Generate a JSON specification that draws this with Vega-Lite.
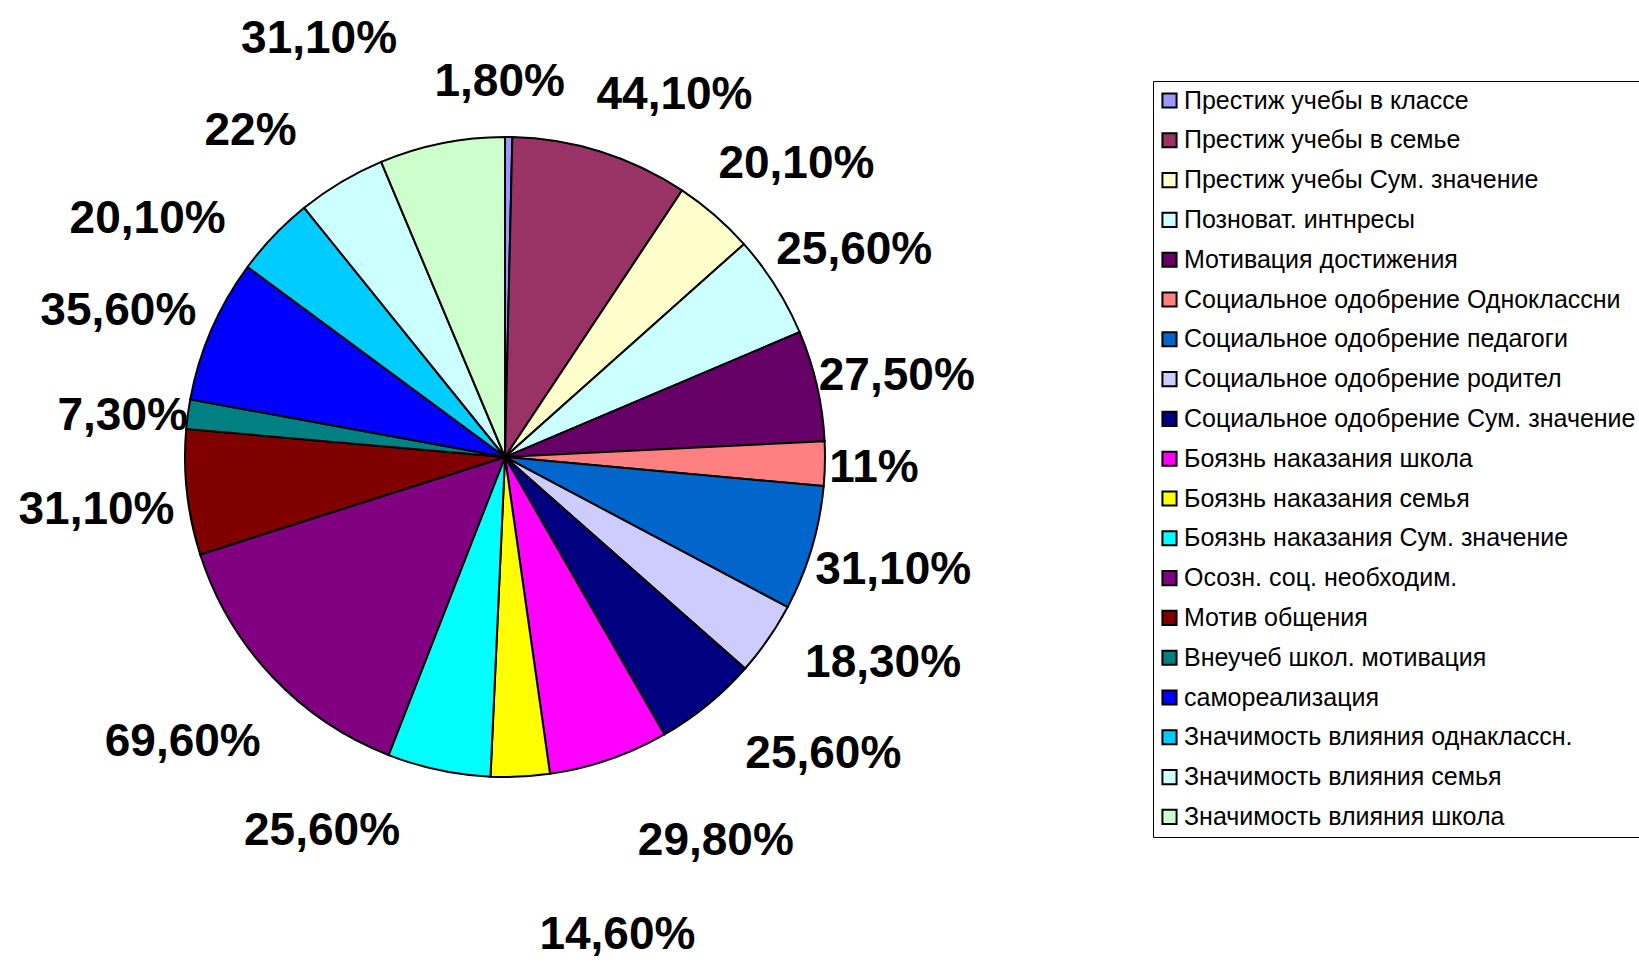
{
  "$schema": "https://vega.github.io/schema/vega-lite/v6.json",
  "width": 1010,
  "height": 914,
  "padding": 0,
  "autosize": {"type": "pad"},
  "background": "white",
  "config": {"view": {"stroke": null}},
  "data": {
    "values": [
      {"i": 1, "name": "Престиж учебы в классе", "v": 1.8, "lbl": "1,80%"},
      {"i": 2, "name": "Престиж учебы в семье", "v": 44.1, "lbl": "44,10%"},
      {"i": 3, "name": "Престиж учебы Сум. значение", "v": 20.1, "lbl": "20,10%"},
      {"i": 4, "name": "Позноват. интнресы", "v": 25.6, "lbl": "25,60%"},
      {"i": 5, "name": "Мотивация достижения", "v": 27.5, "lbl": "27,50%"},
      {"i": 6, "name": "Социальное одобрение Одноклассни", "v": 11, "lbl": "11%"},
      {"i": 7, "name": "Социальное одобрение педагоги", "v": 31.1, "lbl": "31,10%"},
      {"i": 8, "name": "Социальное одобрение родител", "v": 18.3, "lbl": "18,30%"},
      {"i": 9, "name": "Социальное одобрение Сум. значение", "v": 25.6, "lbl": "25,60%"},
      {"i": 10, "name": "Боязнь наказания школа", "v": 29.8, "lbl": "29,80%"},
      {"i": 11, "name": "Боязнь наказания семья", "v": 14.6, "lbl": "14,60%"},
      {"i": 12, "name": "Боязнь наказания Сум. значение", "v": 25.6, "lbl": "25,60%"},
      {"i": 13, "name": "Осозн. соц. необходим.", "v": 69.6, "lbl": "69,60%"},
      {"i": 14, "name": "Мотив общения", "v": 31.1, "lbl": "31,10%"},
      {"i": 15, "name": "Внеучеб школ. мотивация", "v": 7.3, "lbl": "7,30%"},
      {"i": 16, "name": "самореализация", "v": 35.6, "lbl": "35,60%"},
      {"i": 17, "name": "Значимость влияния однаклассн.", "v": 20.1, "lbl": "20,10%"},
      {"i": 18, "name": "Значимость влияния семья", "v": 22, "lbl": "22%"},
      {"i": 19, "name": "Значимость влияния школа", "v": 31.1, "lbl": "31,10%"}
    ]
  },
  "encoding": {
    "theta": {"field": "v", "type": "quantitative", "stack": true},
    "order": {"field": "i", "type": "quantitative"},
    "color": {
      "field": "name",
      "type": "nominal",
      "sort": null,
      "scale": {
        "domain": ["Престиж учебы в классе", "Престиж учебы в семье", "Престиж учебы Сум. значение", "Позноват. интнресы", "Мотивация достижения", "Социальное одобрение Одноклассни", "Социальное одобрение педагоги", "Социальное одобрение родител", "Социальное одобрение Сум. значение", "Боязнь наказания школа", "Боязнь наказания семья", "Боязнь наказания Сум. значение", "Осозн. соц. необходим.", "Мотив общения", "Внеучеб школ. мотивация", "самореализация", "Значимость влияния однаклассн.", "Значимость влияния семья", "Значимость влияния школа"],
        "range": ["#9999FF", "#993366", "#FFFFCC", "#CCFFFF", "#660066", "#FF8080", "#0066CC", "#CCCCFF", "#000080", "#FF00FF", "#FFFF00", "#00FFFF", "#800080", "#800000", "#008080", "#0000FF", "#00CCFF", "#CCFFFF", "#CCFFCC"]
      },
      "legend": {
        "orient": "none",
        "legendX": 1153,
        "legendY": 81,
        "title": null,
        "strokeColor": "black",
        "fillColor": "white",
        "padding": 7,
        "symbolType": "square",
        "symbolSize": 200,
        "symbolOffset": -3,
        "symbolStrokeColor": "black",
        "symbolStrokeWidth": 2,
        "symbolOpacity": 1,
        "labelFont": "Liberation Sans",
        "labelFontSize": 25,
        "labelColor": "black",
        "labelLimit": 700,
        "labelOffset": 2,
        "rowPadding": 13.8
      }
    }
  },
  "layer": [
    {
      "mark": {"type": "arc", "radius": 320, "stroke": "black", "strokeWidth": 2, "opacity": 1}
    },
    {
      "mark": {
        "type": "text",
        "radius": 405,
        "font": "Liberation Sans",
        "fontWeight": "bold",
        "fontSize": 46,
        "align": "center",
        "baseline": "middle",
        "dx": {"expr": "[-10,48,26,7,-3,-36,0,45,62,79,93,-99,-27,-6,19,-15,-65,-47,-106][datum.i-1]"},
        "dy": {"expr": "[30,24,13,10,9,3,-3,-24,-17,1,73,-22,8,8,13,15,42,22,-21][datum.i-1]"}
      },
      "encoding": {
        "text": {"field": "lbl", "type": "nominal"},
        "color": {"value": "black"}
      }
    }
  ]
}
